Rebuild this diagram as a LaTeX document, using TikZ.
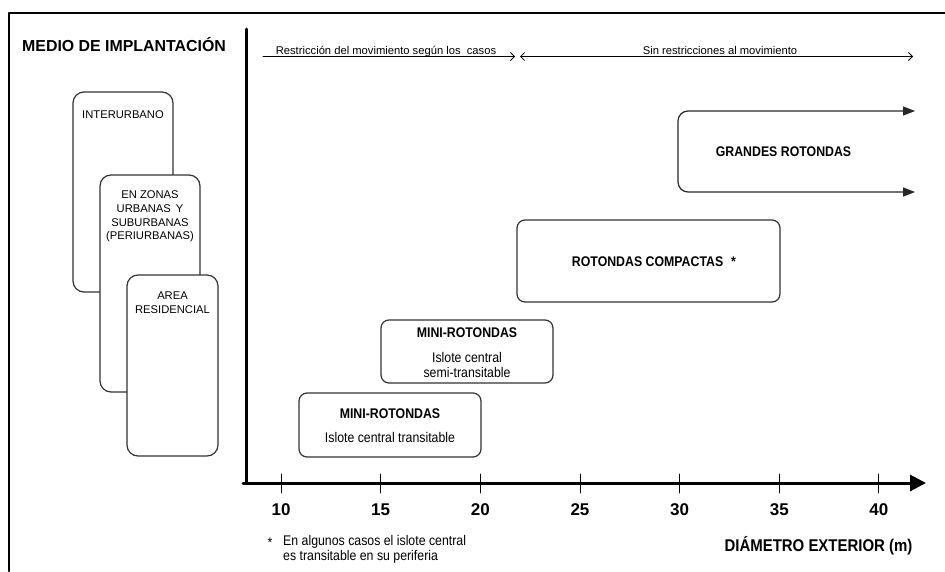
\documentclass[tikz,border=0pt]{standalone}
\usepackage{fontspec}
\setmainfont{Liberation Sans}
\newfontfamily\narrowsans[FakeStretch=0.88]{Liberation Sans}
\usetikzlibrary{arrows.meta}

\begin{document}
\begin{tikzpicture}[x=1pt, y=-1pt, line cap=round, line join=round,
    zone/.style={draw=black!80, line width=1.2pt, fill=white, rounded corners=11pt, inner sep=0pt},
    rotbox/.style={draw=black!80, line width=1.2pt, fill=white, rounded corners=8pt, inner sep=0pt},
    zonetxt/.style={font=\fontsize{11.2}{13.7}\selectfont, align=center, inner sep=0pt},
    rottxt/.style={font=\narrowsans\fontsize{14}{15}\selectfont, align=center, inner sep=0pt},
    rottitle/.style={rottxt, font=\narrowsans\bfseries\fontsize{14}{15}\selectfont},
    ticklbl/.style={font=\bfseries\fontsize{17}{20}\selectfont, inner sep=0pt},
    toplbl/.style={font=\fontsize{11.2}{12}\selectfont, inner sep=0pt, anchor=base},
    axis/.style={line width=3pt},
    span/.style={line width=0.8pt}]
    \useasboundingbox (0,0) rectangle (945,571);

    % marco
    \draw [line width=2pt] (9,571) -- (9,13) -- (945,13);

    \node [font=\bfseries\fontsize{15.9}{18}\selectfont, anchor=west, inner sep=0pt] (medio) at (22,45) {MEDIO DE IMPLANTACIÓN};

    % medio de implantacion
    \node [zone, minimum width=100, minimum height=200] (inter) at (123,192) {};
    \node [zonetxt] (intertxt) at (123,115) {INTERURBANO};
    \node [zone, minimum width=100, minimum height=217] (urb) at (150,283.5) {};
    \node [zonetxt] (urbtxt) at (150,216.5) {EN ZONAS\\URBANAS\, Y\\SUBURBANAS\\(PERIURBANAS)};
    \node [zone, minimum width=91, minimum height=181] (resid) at (172.5,365.5) {};
    \node [zonetxt] (residtxt) at (172.5,302.5) {AREA\\RESIDENCIAL};

    % ejes
    \coordinate (o) at (246,483);
    \coordinate (ytop) at (246,29);
    \coordinate (xstart) at (243,483);
    \coordinate (xend) at (926,483);
    \draw [axis] (o) -- (ytop);
    \draw [axis, -{Triangle[length=16pt, width=16pt]}] (xstart) -- (xend);
    \foreach \d in {10,15,...,40}{
        \coordinate (tk\d) at ({281+19.93*(\d-10)},474);
        \coordinate (tb\d) at ({281+19.93*(\d-10)},493);
        \draw [line width=0.9pt] (tk\d) -- (tb\d);
        \node [ticklbl] (lbl\d) at ({281+19.93*(\d-10)},510) {\d};
    }
    \node [font=\narrowsans\bfseries\fontsize{17}{18}\selectfont, inner sep=0pt] (diam) at (818.5,546) {DIÁMETRO EXTERIOR (m)};

    % movimiento
    \coordinate (r1) at (263,56.5);
    \coordinate (r2) at (515,56.5);
    \coordinate (s1) at (520,56.5);
    \coordinate (s2) at (913,56.5);
    \draw [span, -{Straight Barb[length=4pt, width=8pt]}] (r1) -- (r2);
    \draw [span, {Straight Barb[length=4pt, width=8pt]}-{Straight Barb[length=4pt, width=8pt]}] (s1) -- (s2);
    \node [toplbl] (restr) at (386,54) {Restricción del movimiento según los\ \ casos};
    \node [toplbl] (sinr) at (720,54) {Sin restricciones al movimiento};

    % rotondas
    \node [rotbox, minimum width=182, minimum height=64] (mini1) at (390,425) {};
    \node [rottitle] (mini1t) at (390,414) {MINI-ROTONDAS};
    \node [rottxt] (mini1s) at (390,437) {Islote central transitable};

    \node [rotbox, minimum width=172, minimum height=63] (mini2) at (467,351.5) {};
    \node [rottitle] (mini2t) at (467,333) {MINI-ROTONDAS};
    \node [rottxt] (mini2s) at (467,364.5) {Islote central\\semi-transitable};

    \node [rotbox, minimum width=263, minimum height=82] (comp) at (648.5,261) {};
    \node [rottitle] (compt) at (654,262) {ROTONDAS COMPACTAS\hspace{8pt}*};

    \coordinate (g1) at (915,111);
    \coordinate (g2) at (678,111);
    \coordinate (g3) at (678,192);
    \coordinate (g4) at (915,192);
    \draw [line width=1.2pt, draw=black!85, rounded corners=10pt, {Triangle[length=12pt, width=9pt]}-{Triangle[length=12pt, width=9pt]}] (g1) -- (g2) -- (g3) -- (g4);
    \node [rottitle] (grand) at (783.5,152) {GRANDES ROTONDAS};

    % nota
    \node [rottxt] (ast) at (270,543) {*};
    \node [rottxt, align=left, anchor=west] (nota) at (283,549.5) {En algunos casos el islote central\\es transitable en su periferia};
\end{tikzpicture}
\end{document}
